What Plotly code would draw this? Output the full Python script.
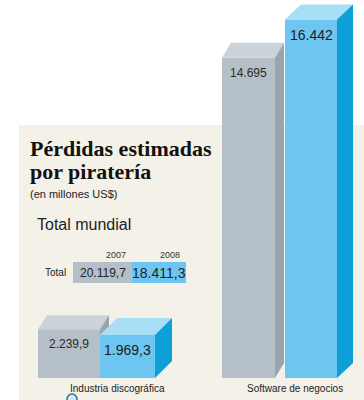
import plotly.graph_objects as go

# ---------------- data ----------------
years = ["2007", "2008"]
categories = ["Industria discográfica", "Software de negocios"]
values_2007 = [2239.9, 14695]
values_2008 = [1969.3, 16442]
label_decimals = [1, 0]
total_label = "Total"
total_values = [20119.7, 18411.3]
title_lines = ["Pérdidas estimadas", "por piratería"]
subtitle = "(en millones US$)"
section_title = "Total mundial"

# ---------------- styling / layout ----------------
W, H = 364, 400
BASE_PX = 378          # pixel row of the bars' baseline
K = 0.0218             # pixels per million US$
Y_RANGE = [-(H - BASE_PX) / K, BASE_PX / K]
X_RANGE = [0, W]

GRAY = dict(front="#b4bfc8", top="#cbd3da", side="#98a4ae", label="#2a2a2a")
BLUE = dict(front="#6dc6f1", top="#a9def7", side="#0d9fd7", label="#1c1c1c")
BEIGE = "#f4f1e8"
TXT = "#222222"
SANS = "Liberation Sans, Arial, sans-serif"
SERIF = "Liberation Serif, Times New Roman, serif"

# left edge / width of front faces (pixels), depth (dx, dy) in pixels
geom = {
    0: dict(left=[38, 222], width=[62, 53], depth=[(9, 14), (9, 15)], fs=[12, 12]),
    1: dict(left=[100, 285], width=[55, 52], depth=[(17, 17), (16, 15)], fs=[14, 14]),
}


def fmt(v, d):
    s = f"{v:,.{d}f}"
    return s.replace(",", "X").replace(".", ",").replace("X", ".")


def py(p):
    return 1 - p / H


fig = go.Figure()
annotations = []

series = [(values_2007, GRAY, "x", "y"), (values_2008, BLUE, "x2", "y2")]
for si, (vals, col, xa, ya) in enumerate(series):
    g = geom[si]
    xs = [l + w / 2 for l, w in zip(g["left"], g["width"])]
    fig.add_trace(go.Bar(x=xs, y=vals, width=g["width"], marker=dict(color=col["front"], line=dict(width=0)),
                         xaxis=xa, yaxis=ya, name=years[si], showlegend=False, hoverinfo="skip"))
    tx, ty, sx, sy = [], [], [], []
    for ci, v in enumerate(vals):
        x0 = g["left"][ci]
        x1 = x0 + g["width"][ci]
        dx, dy = g["depth"][ci]
        dyv = dy / K
        tx += [x0, x1, x1 + dx, x0 + dx, x0, None]
        ty += [v, v, v + dyv, v + dyv, v, None]
        sx += [x1, x1 + dx, x1 + dx, x1, x1, None]
        sy += [v, v + dyv, dyv, 0, v, None]
        annotations.append(dict(x=(x0 + x1) / 2, y=v - 15 / K, xref=xa, yref=ya, text=fmt(v, label_decimals[ci]),
                                showarrow=False, font=dict(family=SANS, size=g["fs"][ci], color=col["label"]),
                                xanchor="center", yanchor="middle"))
    fig.add_trace(go.Scatter(x=tx, y=ty, fill="toself", fillcolor=col["top"], mode="none",
                             xaxis=xa, yaxis=ya, showlegend=False, hoverinfo="skip"))
    fig.add_trace(go.Scatter(x=sx, y=sy, fill="toself", fillcolor=col["side"], mode="none",
                             xaxis=xa, yaxis=ya, showlegend=False, hoverinfo="skip"))

# category labels
cat_centers = [117, 295]
for c, cx in zip(categories, cat_centers):
    annotations.append(dict(x=cx, y=py(388), xref="x", yref="paper", text=c, showarrow=False,
                            font=dict(family=SANS, size=10, color=TXT), xanchor="center", yanchor="middle"))

# total bar (horizontal, stacked)
KT = 59 / total_values[0]
T_LEFT = 73
T_ROW = 272.5
T_H = 21
x3_range = [-T_LEFT / KT, (W - T_LEFT) / KT]
y3_range = [-(H - T_ROW) / T_H, T_ROW / T_H]
bases = [0, total_values[0]]
tcols = [GRAY, BLUE]
tfs = [12, 14]
for i, v in enumerate(total_values):
    fig.add_trace(go.Bar(x=[v], y=[0], base=[bases[i]], orientation="h", width=1,
                         marker=dict(color=tcols[i]["front"], line=dict(width=0)),
                         xaxis="x3", yaxis="y3", showlegend=False, hoverinfo="skip"))
    annotations.append(dict(x=bases[i] + v / 2, y=0, xref="x3", yref="y3", text=fmt(v, 1), showarrow=False,
                            font=dict(family=SANS, size=tfs[i], color=TXT), xanchor="center", yanchor="middle"))
    annotations.append(dict(x=bases[i] + v, y=0.5, xref="x3", yref="y3", text=years[i], showarrow=False,
                            font=dict(family=SANS, size=9, color="#333"), xanchor="right", yanchor="bottom",
                            xshift=-4, yshift=0))
annotations.append(dict(x=0, y=0, xref="x3", yref="y3", text=total_label, showarrow=False,
                        font=dict(family=SANS, size=10, color=TXT), xanchor="right", yanchor="middle", xshift=-5))

# titles
annotations.append(dict(x=28, y=py(148), xref="x", yref="paper", text=title_lines[0], showarrow=False,
                        font=dict(family=SERIF, size=22, color="#111", weight="bold"), xanchor="left", yanchor="middle"))
annotations.append(dict(x=28, y=py(171), xref="x", yref="paper", text=title_lines[1], showarrow=False,
                        font=dict(family=SERIF, size=22, color="#111", weight="bold"), xanchor="left", yanchor="middle"))
annotations.append(dict(x=28, y=py(194), xref="x", yref="paper", text=subtitle, showarrow=False,
                        font=dict(family=SANS, size=11, color=TXT), xanchor="left", yanchor="middle"))
annotations.append(dict(x=35, y=py(224), xref="x", yref="paper", text=section_title, showarrow=False,
                        font=dict(family=SANS, size=16, color=TXT), xanchor="left", yanchor="middle"))

hidden = dict(visible=False, fixedrange=True)
fig.update_layout(
    width=W, height=H, autosize=False, margin=dict(l=0, r=0, t=0, b=0),
    paper_bgcolor="white", plot_bgcolor="rgba(0,0,0,0)", barmode="overlay", showlegend=False,
    xaxis=dict(range=X_RANGE, domain=[0, 1], **hidden),
    yaxis=dict(range=Y_RANGE, domain=[0, 1], **hidden),
    xaxis2=dict(range=X_RANGE, overlaying="x", **hidden),
    yaxis2=dict(range=Y_RANGE, overlaying="y", **hidden),
    xaxis3=dict(range=x3_range, overlaying="x", **hidden),
    yaxis3=dict(range=y3_range, overlaying="y", **hidden),
    shapes=[
        dict(type="rect", xref="paper", yref="paper", x0=19 / W, x1=1, y0=0, y1=py(125),
             fillcolor=BEIGE, line=dict(width=0), layer="below"),
        dict(type="circle", xref="paper", yref="paper", x0=67 / W, x1=77 / W, y0=py(404), y1=py(394),
             fillcolor="#dbe6ee", line=dict(color="#2a6fa8", width=1.5), layer="above"),
    ],
    annotations=annotations,
)

fig.write_html("out.html", config={"displayModeBar": False},
               post_script="document.body.style.margin='0';document.body.style.overflow='hidden';")
